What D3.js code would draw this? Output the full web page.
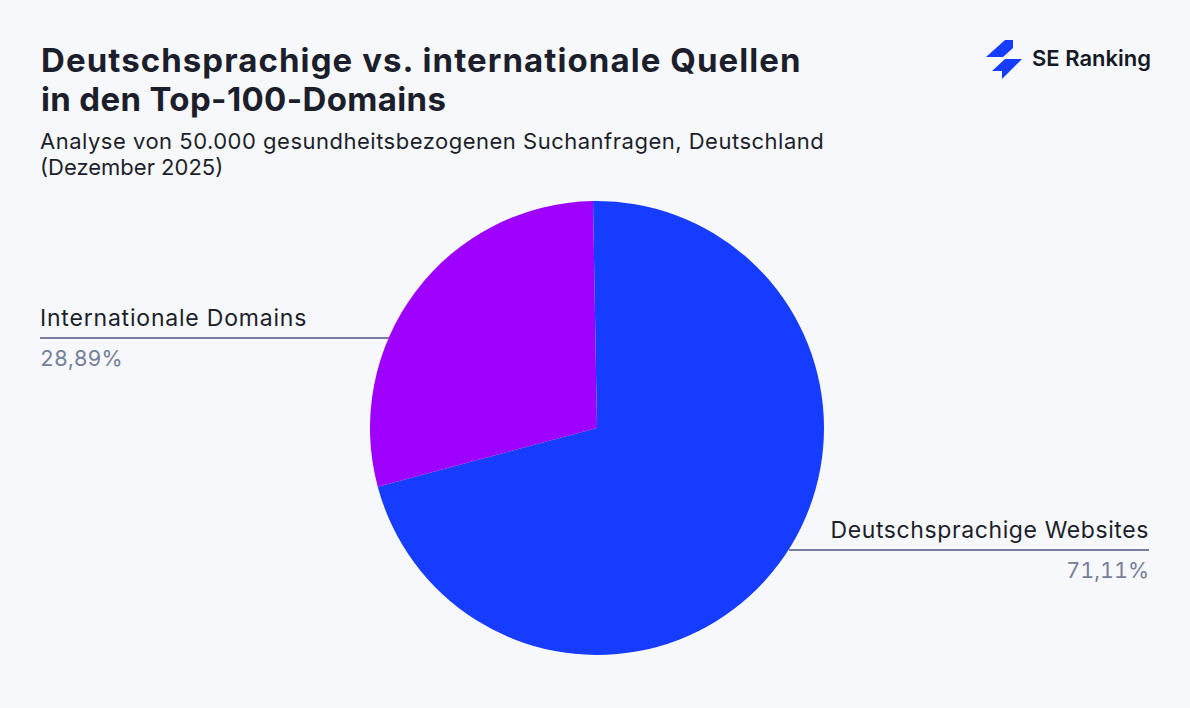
<!DOCTYPE html>
<html>
<head>
<meta charset="utf-8">
<script src="https://cdn.jsdelivr.net/npm/d3@7"></script>
<style>
  html, body { margin: 0; padding: 0; background: #f7f8fc; }
  text { font-family: Inter, "Noto Sans", sans-serif; }
  .share { font-variant-numeric: tabular-nums; }
</style>
</head>
<body>
<svg width="1190" height="708"></svg>
<script>
const categories = ["Deutschsprachige Websites", "Internationale Domains"]
const shares = [71.11, 28.89]
const shareLabels = ["71,11%", "28,89%"]
const sliceColors = ["#163cff", "#9d00ff"]
const titleLines = ["Deutschsprachige vs. internationale Quellen", "in den Top-100-Domains"]
const subtitleLines = ["Analyse von 50.000 gesundheitsbezogenen Suchanfragen, Deutschland", "(Dezember 2025)"]

const svg = d3.select("svg")
const ink = "#1c1f2b"
const muted = "#76809a"

svg.append("rect").attr("width", 1190).attr("height", 708).attr("fill", "#f7f8fc")

// pie
const center = [597, 428]
const radius = 227
const startAngle = (-1 * Math.PI) / 180

const pie = d3.pie().sort(null).startAngle(startAngle).endAngle(startAngle + 2 * Math.PI)
const arc = d3.arc().innerRadius(0).outerRadius(radius)

svg.append("g")
  .attr("transform", `translate(${center[0]},${center[1]})`)
  .selectAll("path")
  .data(pie(shares))
  .join("path")
  .attr("fill", (d, i) => sliceColors[i])
  .attr("d", arc)

// titles, second lines run tighter than the first
svg.selectAll("text.title")
  .data(titleLines)
  .join("text")
  .attr("class", "title")
  .attr("x", 41)
  .attr("y", (d, i) => 72 + i * 39)
  .attr("font-size", 33)
  .attr("font-weight", 700)
  .attr("letter-spacing", (d, i) => (i ? 0.35 : 1.07))
  .attr("fill", ink)
  .text((d) => d)

svg.selectAll("text.subtitle")
  .data(subtitleLines)
  .join("text")
  .attr("class", "subtitle")
  .attr("x", 40)
  .attr("y", (d, i) => 149 + i * 26)
  .attr("font-size", 22)
  .attr("letter-spacing", (d, i) => (i ? 0 : 0.5))
  .attr("fill", ink)
  .text((d) => d)

// leader labels
const labelSpots = [
  { x1: 789, x2: 1149, y: 550, anchor: "end", tx: 1149, spacing: 0.6 },
  { x1: 40, x2: 389, y: 338, anchor: "start", tx: 40, spacing: 0.8 },
]

const labels = svg.selectAll("g.label").data(categories).join("g").attr("class", "label")

labels.append("line")
  .attr("x1", (d, i) => labelSpots[i].x1)
  .attr("x2", (d, i) => labelSpots[i].x2)
  .attr("y1", (d, i) => labelSpots[i].y)
  .attr("y2", (d, i) => labelSpots[i].y)
  .attr("stroke", muted)
  .attr("stroke-width", 2)

labels.append("text")
  .attr("x", (d, i) => labelSpots[i].tx)
  .attr("y", (d, i) => labelSpots[i].y - 12)
  .attr("text-anchor", (d, i) => labelSpots[i].anchor)
  .attr("font-size", 23)
  .attr("letter-spacing", (d, i) => labelSpots[i].spacing)
  .attr("fill", ink)
  .text((d) => d)

labels.append("text")
  .attr("class", "share")
  .attr("x", (d, i) => labelSpots[i].tx)
  .attr("y", (d, i) => labelSpots[i].y + 28)
  .attr("text-anchor", (d, i) => labelSpots[i].anchor)
  .attr("font-size", 21.5)
  .attr("fill", muted)
  .text((d, i) => shareLabels[i])

// logo
const logo = svg.append("g").attr("fill", "#163cff")
logo.append("polygon").attr("points", "986,57 1005,40 1013,40 1013,48 1003,57")
logo.append("polygon").attr("points", "992,71 1005,59 1022,59 1002,79 1002,71")
svg.append("text")
  .attr("x", 1032)
  .attr("y", 66)
  .attr("font-size", 22)
  .attr("font-weight", 600)
  .attr("fill", "#141a24")
  .text("SE Ranking")
</script>
</body>
</html>
